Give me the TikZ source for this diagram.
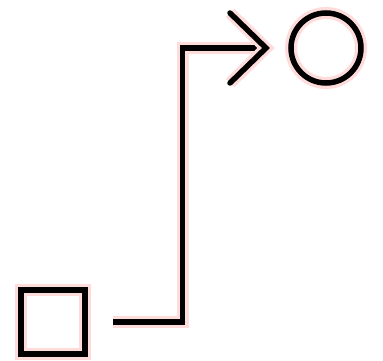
\documentclass[tikz,border=0pt]{standalone}
\begin{document}
\begin{tikzpicture}[x=1pt,y=-1pt,
  glow/.style={preaction={draw=pink!55, line width=12pt}},
  ink/.style={draw=black, line width=5.5pt, glow},
  figbox/.style={ink, minimum size=0pt, inner sep=0pt}]
\useasboundingbox[fill=white] (0,0) rectangle (383,361);
\node[figbox, rectangle, minimum width=64, minimum height=64] (sq) at (53,322) {};
\node[figbox, circle, minimum size=70] (ci) at (326,48) {};
\coordinate (s) at (113,322);
\coordinate (tip) at (266,48);
\draw[ink, line join=miter] (s) -- (182.5,322) -- (182.5,48) -- (tip);
\draw[ink, line cap=round, line join=miter] (230,13) -- (tip) -- (230,83);
\end{tikzpicture}
\end{document}
